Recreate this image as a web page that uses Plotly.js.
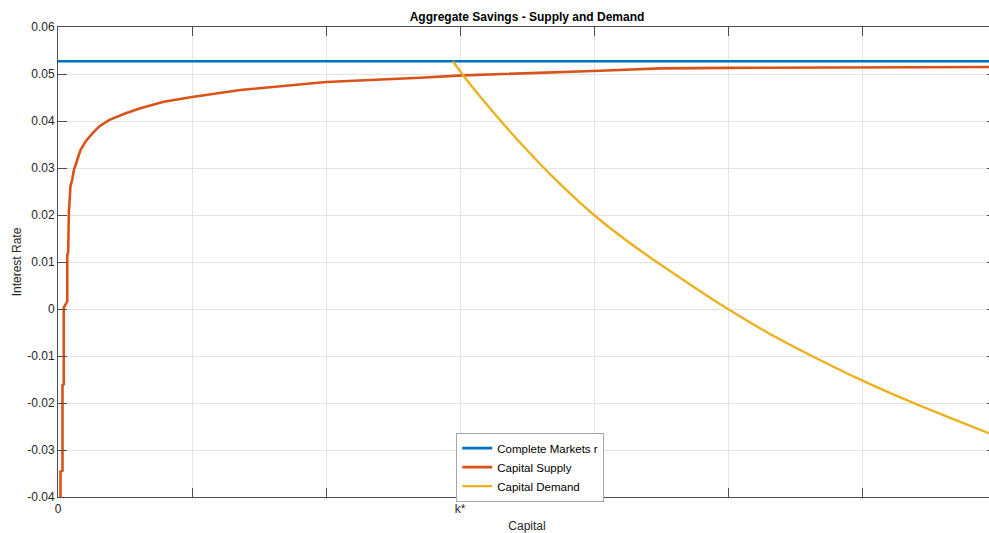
<!DOCTYPE html>
<html>
<head>
<meta charset="utf-8">
<script src="https://cdn.plot.ly/plotly-3.0.1.min.js"></script>
<style>
html,body{margin:0;padding:0;overflow:hidden;background:#fff;}
#chart{width:1000px;height:533px;}
</style>
</head>
<body>
<div id="chart"></div>
<script>
// ---- data (capital in tick units, interest rate) ----
var completeR = 0.0527;
var completeK = [0, 7];

var supplyK = [0.0186, 0.0186, 0.0336, 0.0336, 0.043, 0.043, 0.069, 0.069, 0.076, 0.078, 0.081, 0.093, 0.106, 0.118, 0.143, 0.168, 0.205, 0.255, 0.31, 0.38, 0.50, 0.615, 0.789, 1.0, 1.361, 2.0, 2.703, 3.024, 4.045, 4.493, 4.993, 7.0];
var supplyR = [-0.0400, -0.0346, -0.0344, -0.0162, -0.0160, 0.0003, 0.0016, 0.0115, 0.0120, 0.0162, 0.0204, 0.0261, 0.0275, 0.0295, 0.0317, 0.0338, 0.0356, 0.0373, 0.0389, 0.0402, 0.0416, 0.0427, 0.0441, 0.0451, 0.0466, 0.0483, 0.0492, 0.0497, 0.0507, 0.0512, 0.0513, 0.0515];

var demandK = [2.946, 3.024, 3.25, 3.494, 3.75, 4.0, 4.25, 4.468, 4.75, 5.0, 5.3, 5.626, 6.0, 6.4, 6.946, 7.0];
var demandR = [0.0527, 0.0497, 0.0418, 0.0340, 0.0265, 0.0200, 0.0144, 0.0100, 0.0046, 0.0000, -0.0051, -0.0100, -0.0152, -0.0202, -0.0264, -0.0270];

var xTickVals = [0, 1, 2, 3, 4, 5, 6, 7];
var xTickText = ['0', '', '', 'k*', '', '', '', ''];
var yTickVals = [0.06, 0.05, 0.04, 0.03, 0.02, 0.01, 0, -0.01, -0.02, -0.03, -0.04];
var yTickText = ['0.06', '0.05', '0.04', '0.03', '0.02', '0.01', '0', '-0.01', '-0.02', '-0.03', '-0.04'];

var seriesNames = ['Complete Markets r', 'Capital Supply', 'Capital Demand'];
var colors = ['#0072BD', '#D95319', '#EDB120'];

var traces = [
  {x: completeK, y: completeK.map(function(){return completeR;}), mode: 'lines', name: seriesNames[0],
   line: {color: colors[0], width: 2.6}},
  {x: supplyK, y: supplyR, mode: 'lines', name: seriesNames[1],
   line: {color: colors[1], width: 2.6}},
  {x: demandK, y: demandR, mode: 'lines', name: seriesNames[2],
   line: {color: colors[2], width: 2.4, shape: 'spline', smoothing: 0.5}}
];

var axisFont = {family: 'Liberation Sans, Arial, sans-serif', size: 12, color: '#262626'};

var layout = {
  width: 1000, height: 533,
  margin: {l: 57.5, r: 3.8, t: 27, b: 36},
  paper_bgcolor: '#ffffff', plot_bgcolor: '#ffffff',
  font: axisFont,
  showlegend: true,
  hovermode: false,
  title: {text: 'Aggregate Savings - Supply and Demand',
          font: {family: 'Liberation Sans, Arial, sans-serif', size: 12, color: '#000000', weight: 'bold'},
          x: 0.527, xanchor: 'center', yref: 'container', y: 1 - 17/533, yanchor: 'middle'},
  xaxis: {
    range: [0, 7], tickvals: xTickVals, ticktext: xTickText,
    showline: true, linecolor: '#4d4d4d', linewidth: 1, mirror: 'ticks',
    ticks: 'inside', ticklen: 9, tickcolor: '#4d4d4d', tickwidth: 1,
    showgrid: true, gridcolor: '#e3e3e3', gridwidth: 1, zeroline: false,
    tickfont: axisFont, ticklabelstandoff: 1,
    title: {text: 'Capital', font: axisFont, standoff: 6}
  },
  yaxis: {
    range: [-0.04, 0.06], tickvals: yTickVals, ticktext: yTickText,
    showline: true, linecolor: '#4d4d4d', linewidth: 1, mirror: 'ticks',
    ticks: 'inside', ticklen: 9, tickcolor: '#4d4d4d', tickwidth: 1,
    showgrid: true, gridcolor: '#e3e3e3', gridwidth: 1, zeroline: false,
    tickfont: axisFont,
    title: {text: 'Interest Rate', font: axisFont, standoff: 3}
  },
  legend: {
    x: 0.4246, xanchor: 'left', y: 0.137, yanchor: 'top',
    bgcolor: '#ffffff', bordercolor: '#a6a6a6', borderwidth: 1,
    font: {family: 'Liberation Sans, Arial, sans-serif', size: 11.5, color: '#000000'},
    tracegroupgap: 0, itemwidth: 30
  }
};

Plotly.newPlot('chart', traces, layout, {displayModeBar: false, staticPlot: true});
</script>
</body>
</html>
